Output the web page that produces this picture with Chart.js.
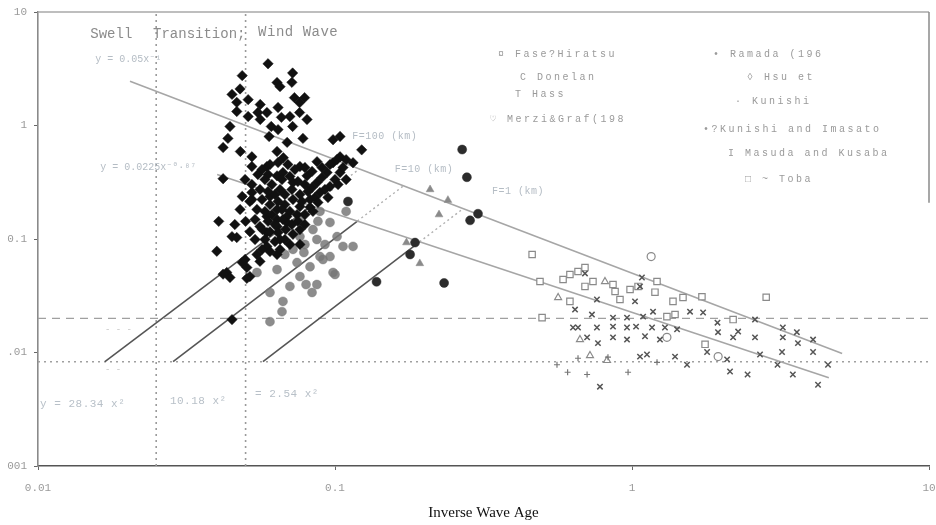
<!DOCTYPE html>
<html>
<head>
<meta charset="utf-8">
<script src="https://cdn.jsdelivr.net/npm/chart.js@4/dist/chart.umd.min.js"></script>
<style>
  html, body { margin: 0; padding: 0; background: #fff; }
  #wrap { width: 936px; height: 525px; }
</style>
</head>
<body>
<div id="wrap"><canvas id="chart" width="936" height="525"></canvas></div>
<script>
// ---- data (inverse wave age vs. wave steepness-ish quantity) ----
const xTicks = [0.01, 0.1, 1, 10];
const yTicks = [0.001, 0.01, 0.1, 1, 10];
const xTickText = ['0.01', '0.1', '1', '10'];
const yTickText = ['001', '.01', '0.1', '1', '10'];

// black diamonds (wind wave field data)
const diamondX = [0.0595,0.0487,0.072,0.0716,0.0638,0.0653,0.0479,0.045,0.051,0.0467,0.056,0.073,0.079,0.076,0.0643,0.0467,0.051,0.055,0.059,0.056,
  0.066,0.0705,0.076,0.0805,0.0443,0.061,0.0643,0.072,0.0436,0.060,0.078,0.069,0.0985,0.104,0.042,0.123,0.048,0.0525,0.0638,0.067,
  0.0525,0.059,0.042,0.104,0.115,0.109,0.0487,0.0517,0.0406,0.050,0.0595,0.0638,0.0668,0.0762,0.087,0.0985,0.104,0.0525,0.0604,0.0653,
  0.0722,0.0805,0.087,0.094,0.0962,0.109,0.0546,0.059,0.0638,0.0689,0.0762,0.0824,0.089,0.045,0.0467,0.0559,0.059,0.0638,0.0689,0.0653,
  0.059,0.0546,0.040,0.0487,0.0505,0.0432,0.0443,0.0559,0.0638,0.0762,0.0517,0.0525,0.057,0.0638,0.045,0.0498,0.042,0.0505,
  0.0568,0.0604,0.0643,0.0694,0.0733,0.0792,0.0837,0.0904,0.0962,0.1016,0.0581,0.0613,0.0663,0.0705,0.075,0.0792,0.0837,0.0904,0.1,0.1064,
  0.0559,0.0595,0.0628,0.0678,0.0716,0.0762,0.0811,0.0856,0.0925,0.1024,0.0568,0.0604,0.0643,0.0678,0.0722,0.0774,0.0824,0.0876,0.0947,
  0.0581,0.0613,0.0663,0.0705,0.0745,0.0792,0.0843,0.0595,0.0628,0.0668,0.0716,0.075,0.0792,0.0604,0.0643,0.0683,0.0722,0.0762,
  0.0581,0.0628,0.0678,0.0705,0.0568,0.0604,0.0653,0.0538,0.0517,0.0538,0.0525,0.055,0.0498,0.0479,0.046];
const diamondY = [3.5,2.75,2.9,2.4,2.39,2.2,2.1,1.88,1.69,1.6,1.53,1.76,1.76,1.59,1.44,1.33,1.2,1.3,1.3,1.13,
  1.18,1.2,1.3,1.13,0.98,0.98,0.92,0.98,0.77,0.80,0.77,0.71,0.75,0.80,0.64,0.61,0.59,0.53,0.59,0.52,
  0.435,0.435,0.34,0.53,0.47,0.50,0.237,0.214,0.143,0.143,0.37,0.36,0.385,0.435,0.48,0.47,0.385,0.223,0.237,0.273,
  0.315,0.36,0.315,0.385,0.29,0.334,0.182,0.158,0.182,0.158,0.193,0.223,0.257,0.105,0.103,0.129,0.114,0.129,0.14,0.099,
  0.086,0.073,0.078,0.062,0.056,0.0507,0.0458,0.0635,0.073,0.0895,0.0467,0.257,0.121,0.1485,0.0195,0.066,0.049,0.045,
  0.41,0.453,0.472,0.453,0.41,0.426,0.394,0.426,0.453,0.502,0.334,0.302,0.334,0.356,0.321,0.302,0.284,0.349,0.334,0.426,
  0.273,0.262,0.247,0.247,0.273,0.247,0.262,0.232,0.273,0.302,0.223,0.201,0.214,0.201,0.223,0.214,0.19,0.21,0.232,
  0.175,0.164,0.182,0.175,0.164,0.164,0.175,0.143,0.134,0.1485,0.134,0.143,0.134,0.116,0.114,0.121,0.11,0.121,
  0.099,0.095,0.099,0.0895,0.0808,0.0776,0.0808,0.1485,0.116,0.099,0.302,0.37,0.334,0.182,0.134];

// grey dots
const greyDotX = [0.089,0.0962,0.0843,0.0762,0.0869,0.1016,0.1064,0.115,0.109,0.0722,0.0786,0.089,0.0745,0.0824,0.0985,0.0762,0.0638,
  0.0705,0.0799,0.0869,0.0546,0.0962,0.0911,0.0837,0.0604,0.0668,0.0663,0.1,0.0604,0.0792,0.0678,0.0925,0.0762,0.0876];
const greyDotY = [0.175,0.14,0.121,0.105,0.099,0.105,0.086,0.086,0.175,0.081,0.076,0.070,0.062,0.057,0.0507,0.0467,0.0538,
  0.0382,0.0397,0.0397,0.0507,0.070,0.066,0.0338,0.0338,0.0282,0.0229,0.0487,0.0187,0.0895,0.073,0.0895,0.1485,0.143];

// large dark dots
const darkDotX = [0.268,0.278,0.303,0.285,0.186,0.179,0.138,0.233,0.1106];
const darkDotY = [0.614,0.35,0.167,0.146,0.093,0.0731,0.042,0.041,0.214];

// grey filled triangles
const greyTriX = [0.209,0.24,0.224,0.174,0.193];
const greyTriY = [0.273,0.22,0.164,0.093,0.0609];

// laboratory cluster (right)
const squareX = [0.461,0.49,0.586,0.618,0.658,0.6945,0.6945,0.739,0.863,0.877,0.911,0.985,1.048,1.214,1.195,0.618,0.498,1.311,1.374,1.485,1.72,1.396,2.19,1.762,2.83];
const squareY = [0.073,0.0422,0.044,0.0487,0.0517,0.056,0.0382,0.0422,0.0397,0.0345,0.0293,0.0359,0.0382,0.0422,0.034,0.0282,0.0203,0.0207,0.0282,0.0305,0.031,0.0216,0.0195,0.0118,0.0307];
const ringX = [1.16,1.311,1.95];
const ringY = [0.070,0.0136,0.0092];
const openTriX = [0.811,0.564,0.668,0.722,0.824];
const openTriY = [0.0422,0.0305,0.013,0.0094,0.0085];
const crossX = [0.6945,1.08,1.064,1.0235,0.762,0.643,0.733,0.863,0.962,1.09,1.177,1.568,1.735,1.94,2.595,0.633,0.658,0.762,0.863,0.962,
  1.032,1.168,1.291,1.418,0.706,0.768,0.863,0.962,1.106,1.242,1.948,2.19,2.277,2.595,3.22,3.59,4.07,3.22,3.62,1.79,
  2.09,2.698,3.2,4.07,1.064,1.123,1.396,1.532,0.78,2.138,2.45,3.09,3.48,4.57,4.23];
const crossY = [0.0497,0.0458,0.0382,0.0282,0.0293,0.0239,0.0216,0.0203,0.0203,0.0207,0.0229,0.0229,0.0225,0.0183,0.0195,0.0166,0.0166,0.0166,0.0169,0.0166,
  0.0169,0.0166,0.0166,0.016,0.0136,0.0121,0.0136,0.013,0.0139,0.013,0.0151,0.0136,0.0153,0.0136,0.0166,0.0151,0.013,0.0136,0.0121,0.0101,
  0.0087,0.0096,0.0101,0.0101,0.0092,0.0096,0.0092,0.0078,0.005,0.0068,0.0064,0.0078,0.0064,0.0078,0.0052];
const plusX = [0.559,0.658,0.83,1.214,0.607,0.706,0.97];
const plusY = [0.0078,0.0089,0.0091,0.0082,0.0067,0.0064,0.0067];

// fitted power laws (end points)
const fitUpperX = [0.0204, 5.1];
const fitUpperY = [2.45, 0.0098];
const fitLowerX = [0.0401, 4.6];
const fitLowerY = [0.37, 0.0060];

// fetch-limited lines, solid part and dotted continuation
const fetch100X = [0.0168, 0.0832], fetch100Y = [0.0083, 0.196];
const fetch100DotX = [0.0832, 0.1208], fetch100DotY = [0.196, 0.414];
const fetch10X = [0.0285, 0.119], fetch10Y = [0.0083, 0.144];
const fetch10DotX = [0.119, 0.17], fetch10DotY = [0.144, 0.294];
const fetch1X = [0.0572, 0.1927], fetch1Y = [0.0083, 0.0943];
const fetch1DotX = [0.1927, 0.27], fetch1DotY = [0.0943, 0.185];

// regime borders and reference levels
const regimeBorders = [0.025, 0.05];
const dashedLevel = 0.02;
const dottedLevel = 0.0083;

const zip = (xs, ys) => xs.map((x, i) => ({x: x, y: ys[i]}));

const labelFont = "'Liberation Mono','DejaVu Sans Mono',monospace";
const notes = [
  {t: 'Swell', x: 0.0150, y: 6.34, size: 14, color: '#8c8c8c', sp: 0},
  {t: 'Transition;', x: 0.0244, y: 6.34, size: 14, color: '#8c8c8c', sp: 0},
  {t: 'Wind Wave', x: 0.0551, y: 6.6, size: 14, color: '#8c8c8c', sp: 0.5},
  {t: 'y = 0.05x⁻¹', x: 0.0156, y: 3.8, size: 10, color: '#b4bcc4', sp: 0},
  {t: 'y = 0.0225x⁻⁰·⁸⁷', x: 0.0162, y: 0.427, size: 10, color: '#b4bcc4', sp: 0},
  {t: 'F=100 (km)', x: 0.1142, y: 0.80, size: 10, color: '#b4bcc4', sp: 0.5},
  {t: 'F=10 (km)', x: 0.159, y: 0.41, size: 10, color: '#b4bcc4', sp: 0.5},
  {t: 'F=1 (km)', x: 0.338, y: 0.262, size: 10, color: '#b4bcc4', sp: 0.5},
  {t: '¤ Fase?Hiratsu', x: 0.3538, y: 4.22, size: 10, color: '#9a9a9a', sp: 2.5},
  {t: 'C Donelan', x: 0.4196, y: 2.65, size: 10, color: '#9a9a9a', sp: 2.5},
  {t: 'T Hass', x: 0.4036, y: 1.876, size: 10, color: '#9a9a9a', sp: 2.5},
  {t: '♡ Merzi&Graf(198', x: 0.3326, y: 1.129, size: 10, color: '#9a9a9a', sp: 2.5},
  {t: '• Ramada (196', x: 1.874, y: 4.22, size: 10, color: '#9a9a9a', sp: 2.5},
  {t: '◊ Hsu et', x: 2.44, y: 2.65, size: 10, color: '#9a9a9a', sp: 2.5},
  {t: '· Kunishi', x: 2.223, y: 1.627, size: 10, color: '#9a9a9a', sp: 2.5},
  {t: '•?Kunishi and Imasato', x: 1.734, y: 0.922, size: 10, color: '#9a9a9a', sp: 2.5},
  {t: 'I Masuda and Kusaba', x: 2.105, y: 0.567, size: 10, color: '#9a9a9a', sp: 2.5},
  {t: '□ ~ Toba', x: 2.402, y: 0.334, size: 10, color: '#9a9a9a', sp: 2.5},
  {t: 'y = 28.34 x²', x: 0.01016, y: 0.00348, size: 11, color: '#b8c0c8', sp: 0.5},
  {t: '10.18 x²', x: 0.0278, y: 0.0037, size: 11, color: '#b8c0c8', sp: 0.5},
  {t: '= 2.54 x²', x: 0.0538, y: 0.00427, size: 11, color: '#b8c0c8', sp: 0.5},
  {t: '- - -', x: 0.0168, y: 0.0158, size: 9, color: '#c4c4c4', sp: 0},
  {t: '- -', x: 0.0168, y: 0.0070, size: 9, color: '#c4c4c4', sp: 0}
];

const notesPlugin = {
  id: 'notes',
  afterDatasetsDraw(chart) {
    const {ctx, scales} = chart;
    ctx.save();
    ctx.textBaseline = 'middle';
    ctx.textAlign = 'left';
    notes.forEach(n => {
      ctx.font = n.size + 'px ' + labelFont;
      ctx.fillStyle = n.color;
      if ('letterSpacing' in ctx) ctx.letterSpacing = n.sp + 'px';
      ctx.fillText(n.t, scales.x.getPixelForValue(n.x), scales.y.getPixelForValue(n.y));
    });
    ctx.restore();
  }
};

// thin frame on top and right like the original plot box
const framePlugin = {
  id: 'frame',
  afterDraw(chart) {
    const {ctx, chartArea: a} = chart;
    ctx.save();
    ctx.strokeStyle = '#a8a8a8';
    ctx.lineWidth = 1.5;
    ctx.beginPath();
    ctx.moveTo(a.left, a.top);
    ctx.lineTo(a.right, a.top);
    ctx.stroke();
    ctx.strokeStyle = '#8a8a8a';
    ctx.beginPath();
    ctx.moveTo(a.right, a.top);
    ctx.lineTo(a.right, a.top + (a.bottom - a.top) * 0.42);
    ctx.stroke();
    ctx.restore();
  }
};

const lineSet = (data, color, width, dash, order) => ({
  data: data, showLine: true, pointRadius: 0, borderColor: color,
  borderWidth: width, borderDash: dash, fill: false, order: order
});

const markSet = (data, style, radius, fill, stroke, bw, order) => ({
  data: data, showLine: false, pointStyle: style, pointRadius: radius,
  backgroundColor: fill, borderColor: stroke, borderWidth: bw, order: order
});

const datasets = [
  markSet(zip(diamondX, diamondY), 'rectRot', 5.2, '#111', '#111', 0.5, 1),
  markSet(zip(darkDotX, darkDotY), 'circle', 4.5, '#2c2c2c', '#2c2c2c', 0.5, 2),
  markSet(zip(greyDotX, greyDotY), 'circle', 4.5, 'rgba(120,120,120,0.85)', 'rgba(120,120,120,0.85)', 0.5, 3),
  markSet(zip(greyTriX, greyTriY), 'triangle', 4.5, '#8a8a8a', '#8a8a8a', 0.5, 2),
  markSet(zip(squareX, squareY), 'rect', 4.5, '#fff', '#8a8a8a', 1.2, 2),
  markSet(zip(ringX, ringY), 'circle', 4, '#fff', '#8a8a8a', 1.2, 2),
  markSet(zip(openTriX, openTriY), 'triangle', 4, '#fff', '#8a8a8a', 1.2, 2),
  markSet(zip(crossX, crossY), 'crossRot', 3.8, '#555', '#555', 1.5, 1),
  markSet(zip(plusX, plusY), 'cross', 3, '#777', '#777', 1.2, 1),

  lineSet(zip(fitUpperX, fitUpperY), '#a6a6a6', 1.6, [], 6),
  lineSet(zip(fitLowerX, fitLowerY), '#a6a6a6', 1.6, [], 6),
  lineSet(zip(fetch100X, fetch100Y), '#555', 1.6, [], 6),
  lineSet(zip(fetch10X, fetch10Y), '#555', 1.6, [], 6),
  lineSet(zip(fetch1X, fetch1Y), '#555', 1.6, [], 6),
  lineSet(zip(fetch100DotX, fetch100DotY), '#b0b0b0', 1.4, [2, 3], 6),
  lineSet(zip(fetch10DotX, fetch10DotY), '#b0b0b0', 1.4, [2, 3], 6),
  lineSet(zip(fetch1DotX, fetch1DotY), '#b0b0b0', 1.4, [2, 3], 6),

  lineSet([{x: regimeBorders[0], y: yTicks[0]}, {x: regimeBorders[0], y: yTicks[4]}], '#9a9a9a', 1.6, [2, 4], 8),
  lineSet([{x: regimeBorders[1], y: yTicks[0]}, {x: regimeBorders[1], y: yTicks[4]}], '#9a9a9a', 1.6, [2, 4], 8),
  lineSet([{x: xTicks[0], y: dashedLevel}, {x: xTicks[3], y: dashedLevel}], '#a0a0a0', 1.4, [8, 6], 8),
  lineSet([{x: xTicks[0], y: dottedLevel}, {x: xTicks[3], y: dottedLevel}], '#a0a0a0', 1.4, [2, 4], 8)
];

const tickFont = {family: labelFont, size: 11};

new Chart(document.getElementById('chart').getContext('2d'), {
  type: 'scatter',
  data: {datasets: datasets},
  options: {
    responsive: false,
    animation: false,
    devicePixelRatio: 1,
    layout: {padding: {left: 0, top: 12, right: 7, bottom: 0}},
    plugins: {legend: {display: false}, tooltip: {enabled: false}},
    scales: {
      x: {
        type: 'logarithmic', min: 0.01, max: 10,
        afterBuildTicks: s => { s.ticks = xTicks.map(v => ({value: v})); },
        afterFit: s => { s.height = 59; s.paddingLeft = 0; s.paddingRight = 0; },
        ticks: {
          autoSkip: false, maxRotation: 0, padding: 11, color: '#9a9a9a', font: tickFont,
          callback: v => xTickText[xTicks.indexOf(v)]
        },
        grid: {display: true, drawOnChartArea: false, drawTicks: true, tickLength: 4, color: '#666'},
        border: {display: true, color: '#555', width: 1.6, dash: [3, 1]},
        title: {display: true, text: 'Inverse Wave Age', color: '#111',
          font: {family: "'Liberation Serif','Times New Roman',serif", size: 15},
          padding: {top: 0, bottom: 3}}
      },
      y: {
        type: 'logarithmic', min: 0.001, max: 10,
        afterBuildTicks: s => { s.ticks = yTicks.map(v => ({value: v})); },
        afterFit: s => { s.width = 38; s.paddingTop = 0; s.paddingBottom = 0; },
        ticks: {
          autoSkip: false, padding: 7, color: '#9a9a9a', font: tickFont,
          callback: v => yTickText[yTicks.indexOf(v)]
        },
        grid: {display: true, drawOnChartArea: false, drawTicks: true, tickLength: 4, color: '#666'},
        border: {display: true, color: '#8a8a8a', width: 1.6}
      }
    }
  },
  plugins: [notesPlugin, framePlugin]
});
</script>
</body>
</html>
